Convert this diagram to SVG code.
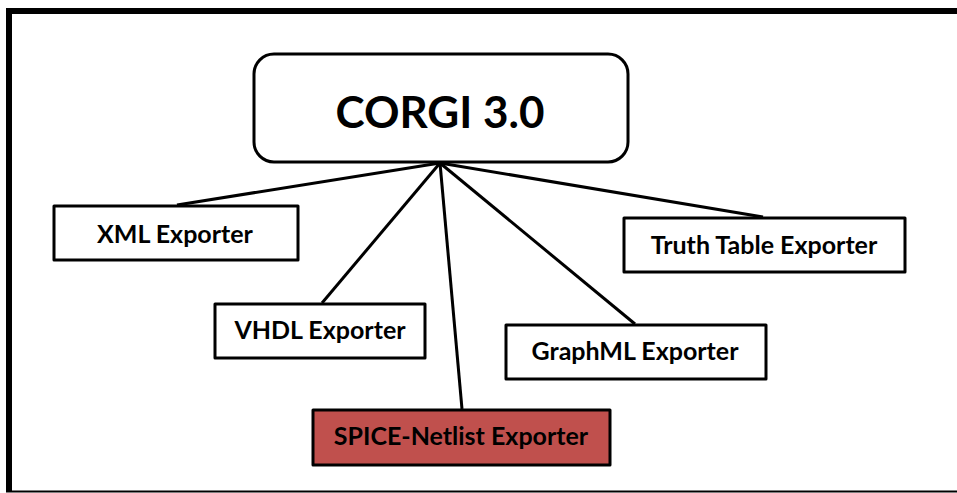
<svg xmlns="http://www.w3.org/2000/svg" width="957" height="493" viewBox="0 0 957 493">
<style>
.box{fill:#fff;stroke:#000;stroke-width:3;stroke-linejoin:round}
.red{fill:#C0504D}
.lbl{font-family:Lato,"Open Sans",sans-serif;font-weight:bold;font-size:25px;text-anchor:middle;fill:#000}
.conn line{stroke:#000;stroke-width:3}
</style>
<rect width="957" height="493" fill="#fff"/>
<path d="M9,492 V11 H957" fill="none" stroke="#000" stroke-width="6"/>
<line x1="6" y1="491.5" x2="957" y2="491.5" stroke="#000" stroke-width="2"/>
<g class="conn">
<line x1="440" y1="163" x2="177" y2="205"/>
<line x1="440" y1="163" x2="322" y2="303"/>
<line x1="440" y1="163" x2="462" y2="409"/>
<line x1="440" y1="163" x2="635" y2="324"/>
<line x1="440" y1="163" x2="763" y2="217"/>
</g>
<g id="corgi">
<rect class="box" x="254" y="54" width="374" height="108" rx="20"/>
<text class="lbl" x="440" y="128" style="font-size:44px">CORGI 3.0</text>
</g>
<g id="xml">
<rect class="box" x="54" y="206" width="244" height="54"/>
<text class="lbl" x="175" y="243">XML Exporter</text>
</g>
<g id="vhdl">
<rect class="box" x="215" y="304" width="210" height="54"/>
<text class="lbl" x="320" y="339">VHDL Exporter</text>
</g>
<g id="spice">
<rect class="box red" x="313" y="410" width="297" height="55"/>
<text class="lbl" x="461" y="445">SPICE-Netlist Exporter</text>
</g>
<g id="graphml">
<rect class="box" x="506" y="325" width="260" height="54"/>
<text class="lbl" x="635" y="360">GraphML Exporter</text>
</g>
<g id="truth">
<rect class="box" x="624" y="218" width="281" height="54"/>
<text class="lbl" x="764" y="254">Truth Table Exporter</text>
</g>
</svg>
